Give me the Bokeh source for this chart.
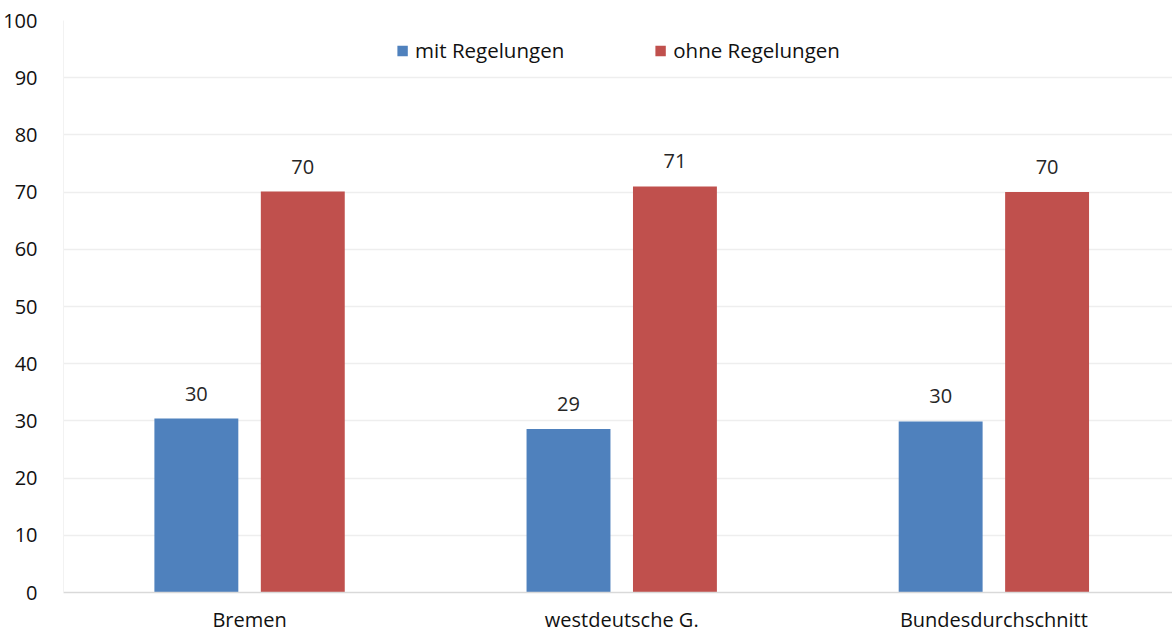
from bokeh.plotting import figure
from bokeh.models import ColumnDataSource, Range1d, FixedTicker, Legend, LegendItem
from bokeh.embed import file_html
from bokeh.resources import INLINE
from bokeh.core.properties import value
from bokeh.transform import dodge

categories = ["Bremen", "westdeutsche G.", "Bundesdurchschnitt"]
mit = [30.4, 28.6, 29.9]
ohne = [70.1, 71.0, 70.0]
mit_labels = ["30", "29", "30"]
ohne_labels = ["70", "71", "70"]
y_ticks = list(range(0, 101, 10))

FONT = "Open Sans"
BLUE = "#4f81bd"
RED = "#c0504d"

xpos = [i + 0.5 for i in range(len(categories))]
src = ColumnDataSource(dict(x=xpos, mit=mit, ohne=ohne,
                            mit_labels=mit_labels, ohne_labels=ohne_labels))

p = figure(width=1172, height=635, output_backend="svg", toolbar_location=None,
           x_range=Range1d(0, 2.98), y_range=Range1d(0, 100),
           min_border_left=62, min_border_right=0, min_border_top=20,
           min_border_bottom=43)
p.outline_line_color = None

bw = 0.2255
off = 0.143
r1 = p.vbar(x=dodge("x", -off, range=p.x_range), top="mit", width=bw, source=src,
            fill_color=BLUE, line_color=None)
r2 = p.vbar(x=dodge("x", off, range=p.x_range), top="ohne", width=bw, source=src,
            fill_color=RED, line_color=None)

for col, lab, o in (("mit", "mit_labels", -off), ("ohne", "ohne_labels", off)):
    p.text(x=dodge("x", o, range=p.x_range), y=col, text=lab, source=src,
           text_align="center", text_baseline="middle", y_offset=-25,
           text_font=value(FONT), text_font_size="20px", text_color="#262626")

# axes
p.xaxis.ticker = FixedTicker(ticks=xpos)
p.xaxis.major_label_overrides = {x: c for x, c in zip(xpos, categories)}
p.xaxis.major_tick_line_color = None
p.xaxis.minor_tick_line_color = None
p.xaxis.axis_line_color = "#d9d9d9"
p.xaxis.axis_line_width = 1.5
p.xaxis.major_label_standoff = 7
p.xaxis.major_label_text_font = FONT
p.xaxis.major_label_text_font_size = "20px"
p.xaxis.major_label_text_color = "#111111"

p.yaxis.ticker = FixedTicker(ticks=y_ticks)
p.yaxis.major_tick_line_color = None
p.yaxis.minor_tick_line_color = None
p.yaxis.axis_line_color = "#f2f2f2"
p.yaxis.major_label_standoff = 20
p.yaxis.major_label_text_font = FONT
p.yaxis.major_label_text_font_size = "20px"
p.yaxis.major_label_text_color = "#111111"

p.xgrid.grid_line_color = None
p.ygrid.grid_line_color = "#eeeeee"
p.ygrid.grid_line_width = 1.5

legend = Legend(items=[LegendItem(label="mit Regelungen", renderers=[r1]),
                       LegendItem(label="ohne Regelungen", renderers=[r2])],
                orientation="horizontal", location="top_center",
                glyph_width=13, glyph_height=13, label_standoff=7, spacing=89,
                border_line_color=None, background_fill_alpha=0,
                label_text_font=FONT, label_text_font_size="20.5px",
                label_text_color="#111111", margin=16, padding=10)
p.add_layout(legend)

open("out.html", "w").write(file_html(p, INLINE))
